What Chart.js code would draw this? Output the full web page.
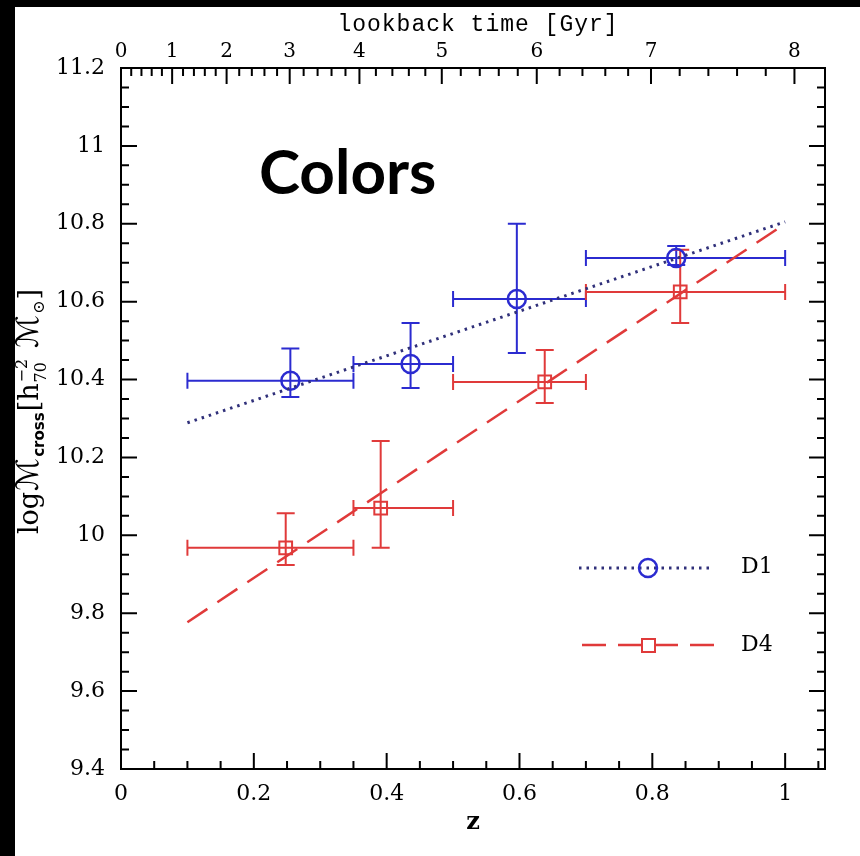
<!DOCTYPE html>
<html>
<head>
<meta charset="utf-8">
<script src="https://cdn.jsdelivr.net/npm/chart.js@4.4.0/dist/chart.umd.min.js"></script>
<style>
  html, body { margin: 0; padding: 0; background: #000; }
  canvas { display: block; }
</style>
</head>
<body>
<canvas id="myChart" width="860" height="856"></canvas>
<script>
// tick labels
const zTicks = [0, 0.2, 0.4, 0.6, 0.8, 1];
const massTicks = [9.4, 9.6, 9.8, 10, 10.2, 10.4, 10.6, 10.8, 11, 11.2];
const lookbackLabels = ['0', '1', '2', '3', '4', '5', '6', '7', '8'];
const lookbackZ = [0, 0.077, 0.159, 0.254, 0.359, 0.483, 0.626, 0.798, 1.014];

// D1 (circles)
const d1Z = [0.255, 0.436, 0.596, 0.836];
const d1Mass = [10.397, 10.44, 10.607, 10.712];
const d1ZLow = [0.1, 0.35, 0.5, 0.7];
const d1ZHigh = [0.35, 0.5, 0.7, 1.0];
const d1MassLow = [10.355, 10.378, 10.468, 10.694];
const d1MassHigh = [10.48, 10.545, 10.80, 10.743];

// D4 (squares)
const d4Z = [0.248, 0.391, 0.638, 0.842];
const d4Mass = [9.968, 10.07, 10.394, 10.625];
const d4ZLow = [0.1, 0.35, 0.5, 0.7];
const d4ZHigh = [0.35, 0.5, 0.7, 1.0];
const d4MassLow = [9.924, 9.968, 10.34, 10.545];
const d4MassHigh = [10.057, 10.242, 10.476, 10.733];

// linear fits
const fitZ = [0.1, 1.0];
const d1Fit = [10.289, 10.805];
const d4Fit = [9.777, 10.80];

const BLUE = '#2b2bd0';
const NAVY = '#30307a';
const RED = '#e03a3a';
const SERIF = "'DejaVu Serif', serif";

const pts = (xs, ys) => xs.map((x, i) => ({ x: x, y: ys[i] }));
const fmt = v => String(parseFloat(Number(v).toFixed(2)));

// white page with a black strip on the left and top
const background = {
  id: 'background',
  beforeDraw(chart) {
    const ctx = chart.ctx;
    ctx.save();
    ctx.fillStyle = '#000';
    ctx.fillRect(0, 0, chart.width, chart.height);
    ctx.fillStyle = '#fff';
    ctx.fillRect(15, 7, chart.width - 15, chart.height - 7);
    ctx.restore();
  }
};

function drawErrors(chart, xs, ys, xl, xh, yl, yh, color) {
  const ctx = chart.ctx, sx = chart.scales.x, sy = chart.scales.y;
  ctx.save();
  ctx.strokeStyle = color;
  ctx.lineWidth = 2;
  xs.forEach((z, i) => {
    const px = sx.getPixelForValue(z), py = sy.getPixelForValue(ys[i]);
    const x0 = sx.getPixelForValue(xl[i]), x1 = sx.getPixelForValue(xh[i]);
    const y0 = sy.getPixelForValue(yl[i]), y1 = sy.getPixelForValue(yh[i]);
    ctx.beginPath();
    ctx.moveTo(x0, py); ctx.lineTo(x1, py);
    ctx.moveTo(x0, py - 8); ctx.lineTo(x0, py + 8);
    ctx.moveTo(x1, py - 8); ctx.lineTo(x1, py + 8);
    ctx.moveTo(px, y0); ctx.lineTo(px, y1);
    ctx.moveTo(px - 9, y0); ctx.lineTo(px + 9, y0);
    ctx.moveTo(px - 9, y1); ctx.lineTo(px + 9, y1);
    ctx.stroke();
  });
  ctx.restore();
}

const errorBars = {
  id: 'errorBars',
  beforeDatasetsDraw(chart) {
    drawErrors(chart, d1Z, d1Mass, d1ZLow, d1ZHigh, d1MassLow, d1MassHigh, BLUE);
    drawErrors(chart, d4Z, d4Mass, d4ZLow, d4ZHigh, d4MassLow, d4MassHigh, RED);
  }
};

// frame with inward ticks on all four sides
const frame = {
  id: 'frame',
  afterDraw(chart) {
    const ctx = chart.ctx, a = chart.chartArea;
    const sx = chart.scales.x, sy = chart.scales.y;
    ctx.save();
    ctx.strokeStyle = '#000';
    ctx.lineWidth = 2;
    ctx.strokeRect(a.left, a.top, a.right - a.left, a.bottom - a.top);
    ctx.beginPath();
    // bottom: z
    for (let i = 0; i < zTicks.length; i++) {
      const p = sx.getPixelForValue(zTicks[i]);
      ctx.moveTo(p, a.bottom); ctx.lineTo(p, a.bottom - 16);
      for (let k = 1; k < 4; k++) {
        const q = sx.getPixelForValue(zTicks[i] + k * 0.05);
        if (q < a.right - 2) { ctx.moveTo(q, a.bottom); ctx.lineTo(q, a.bottom - 8); }
      }
    }
    // top: lookback time
    for (let i = 0; i < lookbackZ.length; i++) {
      const p = sx.getPixelForValue(lookbackZ[i]);
      ctx.moveTo(p, a.top); ctx.lineTo(p, a.top + 16);
      if (i + 1 < lookbackZ.length) {
        for (let k = 1; k < 5; k++) {
          const q = sx.getPixelForValue(lookbackZ[i] + (lookbackZ[i + 1] - lookbackZ[i]) * k / 5);
          ctx.moveTo(q, a.top); ctx.lineTo(q, a.top + 8);
        }
      }
    }
    // left and right: mass
    for (let i = 0; i < massTicks.length; i++) {
      const p = sy.getPixelForValue(massTicks[i]);
      ctx.moveTo(a.left, p); ctx.lineTo(a.left + 16, p);
      ctx.moveTo(a.right, p); ctx.lineTo(a.right - 16, p);
      if (i + 1 < massTicks.length) {
        for (let k = 1; k < 4; k++) {
          const q = sy.getPixelForValue(massTicks[i] + k * 0.05);
          ctx.moveTo(a.left, q); ctx.lineTo(a.left + 8, q);
          ctx.moveTo(a.right, q); ctx.lineTo(a.right - 8, q);
        }
      }
    }
    ctx.stroke();

    // axis titles
    ctx.fillStyle = '#000';
    ctx.textAlign = 'center';
    ctx.textBaseline = 'alphabetic';
    ctx.font = "23px 'Liberation Mono', monospace";
    ctx.letterSpacing = '1px';
    ctx.fillText('lookback time [Gyr]', 478, 31);
    ctx.font = "bold 24px " + SERIF;
    ctx.letterSpacing = '0px';
    ctx.fillText('z', 473, 829);

    // y title, rotated
    ctx.save();
    ctx.translate(38, 411);
    ctx.rotate(-Math.PI / 2);
    ctx.textAlign = 'left';
    const big = "27px " + SERIF + ", 'DejaVu Sans'";
    const script = "italic 31px " + SERIF + ", 'DejaVu Sans'";
    const small = "16px " + SERIF;
    const pieces = [
      { t: 'log', f: big, dy: 0 },
      { t: '\u2133', f: script, dy: 0 },
      { t: 'cross', f: "bold 15px 'DejaVu Sans'", dy: 6 },
      { t: '[h', f: big, dy: 0 },
      { t: '\u22122', sub: '70', f: small, dy: -11 },
      { t: ' \u2133', f: script, dy: 0 },
      { t: '\u2299', f: small, dy: 6 },
      { t: ']', f: big, dy: 0 }
    ];
    let total = 0;
    pieces.forEach(p => {
      ctx.font = p.f;
      let w = ctx.measureText(p.t).width;
      if (p.sub) w = Math.max(w, ctx.measureText(p.sub).width);
      p.w = w + 1;
      total += p.w;
    });
    let x = -total / 2;
    pieces.forEach(p => {
      ctx.font = p.f;
      ctx.fillText(p.t, x, p.dy);
      if (p.sub) ctx.fillText(p.sub, x, 8);
      x += p.w;
    });
    ctx.restore();

    // in-plot label
    ctx.textAlign = 'left';
    ctx.font = "bold 62px Lato, sans-serif";
    ctx.fillText('Colors', 259, 194);

    // legend
    ctx.lineWidth = 3;
    ctx.strokeStyle = NAVY;
    ctx.setLineDash([2.5, 5]);
    ctx.beginPath(); ctx.moveTo(579, 568); ctx.lineTo(714, 568); ctx.stroke();
    ctx.strokeStyle = RED;
    ctx.lineWidth = 2.5;
    ctx.setLineDash([24, 12]);
    ctx.beginPath(); ctx.moveTo(582, 645); ctx.lineTo(716, 645); ctx.stroke();
    ctx.setLineDash([]);
    ctx.lineWidth = 2.5;
    ctx.strokeStyle = BLUE;
    ctx.beginPath(); ctx.arc(648, 568, 9, 0, Math.PI * 2); ctx.stroke();
    ctx.strokeStyle = RED;
    ctx.fillStyle = '#fff';
    ctx.fillRect(642, 639, 13, 13);
    ctx.lineWidth = 2;
    ctx.strokeRect(642, 639, 13, 13);
    ctx.fillStyle = '#000';
    ctx.font = "22px " + SERIF;
    ctx.textBaseline = 'middle';
    ctx.fillText('D1', 741, 567);
    ctx.fillText('D4', 741, 645);
    ctx.restore();
  }
};

const tickFont = { family: SERIF, size: 22 };

new Chart(document.getElementById('myChart'), {
  type: 'scatter',
  data: {
    datasets: [
      {
        label: 'D1 fit', data: pts(fitZ, d1Fit), showLine: true,
        borderColor: NAVY, borderWidth: 3, borderDash: [2.5, 5], pointRadius: 0
      },
      {
        label: 'D4 fit', data: pts(fitZ, d4Fit), showLine: true,
        borderColor: RED, borderWidth: 2.5, borderDash: [24, 12], pointRadius: 0
      },
      {
        label: 'D1', data: pts(d1Z, d1Mass), pointStyle: 'circle', pointRadius: 9,
        borderColor: BLUE, backgroundColor: 'rgba(0,0,0,0)', borderWidth: 2.5
      },
      {
        label: 'D4', data: pts(d4Z, d4Mass), pointStyle: 'rect', pointRadius: 9,
        borderColor: RED, backgroundColor: 'rgba(0,0,0,0)', borderWidth: 2
      }
    ]
  },
  options: {
    responsive: false,
    animation: false,
    layout: { padding: { right: 35 } },
    plugins: { legend: { display: false }, tooltip: { enabled: false } },
    scales: {
      x: {
        type: 'linear', position: 'bottom', min: 0, max: 1.06,
        afterBuildTicks: s => { s.ticks = zTicks.map(v => ({ value: v })); },
        afterFit: s => { s.height = 87; },
        grid: { display: false, drawTicks: false },
        border: { display: false },
        ticks: { font: tickFont, color: '#000', padding: 12, maxRotation: 0, autoSkip: false, callback: v => fmt(v) }
      },
      x2: {
        type: 'linear', position: 'top', min: 0, max: 1.06,
        afterBuildTicks: s => { s.ticks = lookbackZ.map(v => ({ value: v })); },
        afterFit: s => { s.height = 68; },
        grid: { display: false, drawTicks: false },
        border: { display: false },
        ticks: { font: { family: SERIF, size: 20 }, color: '#000', padding: 4, maxRotation: 0, autoSkip: false,
                 callback: (v, i) => lookbackLabels[i] }
      },
      y: {
        type: 'linear', position: 'left', min: 9.4, max: 11.2,
        afterBuildTicks: s => { s.ticks = massTicks.map(v => ({ value: v })); },
        afterFit: s => { s.width = 121; },
        grid: { display: false, drawTicks: false },
        border: { display: false },
        ticks: { font: tickFont, color: '#000', padding: 16, autoSkip: false, callback: v => fmt(v) }
      }
    }
  },
  plugins: [background, errorBars, frame]
});
</script>
</body>
</html>
